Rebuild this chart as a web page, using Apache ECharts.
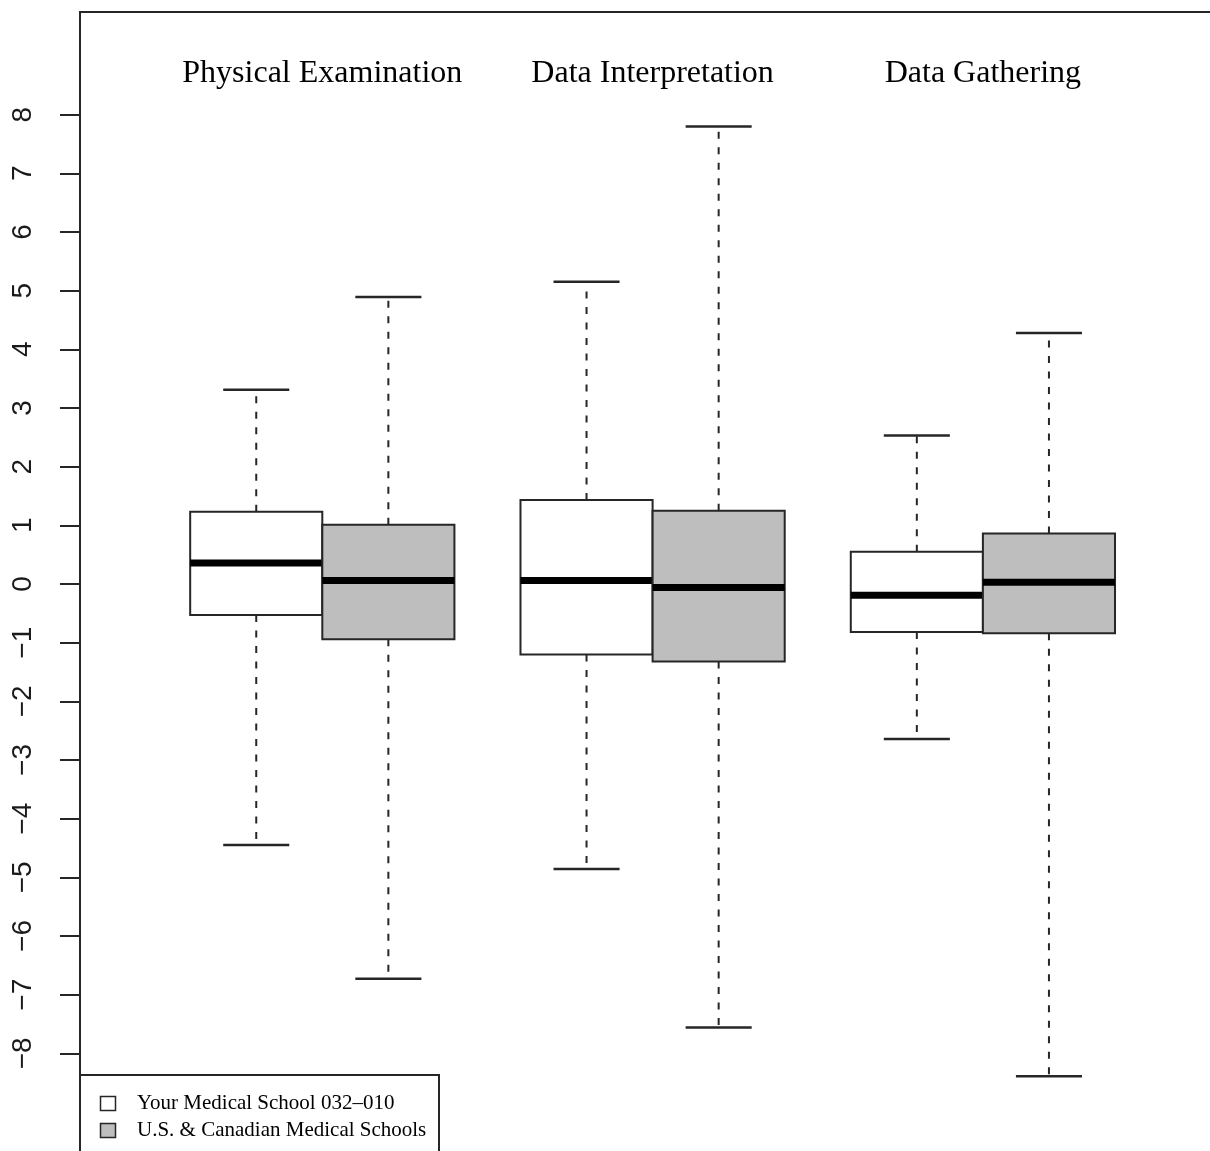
<!DOCTYPE html>
<html>
<head>
<meta charset="utf-8">
<script src="https://cdn.jsdelivr.net/npm/echarts@6/dist/echarts.min.js"></script>
<style>
  html, body { margin: 0; padding: 0; background: #ffffff; }
  #chart { width: 1210px; height: 1151px; }
</style>
</head>
<body>
<div id="chart"></div>
<script>
// ---- data ----
const categories = ['Physical Examination', 'Data Interpretation', 'Data Gathering'];
const seriesNames = ['Your Medical School 032\u2013010', 'U.S. & Canadian Medical Schools'];
// each entry: [lower whisker, Q1, median, Q3, upper whisker]
const yourSchool = [
  [-4.45, -0.53, 0.36, 1.23, 3.31],
  [-4.86, -1.20, 0.06, 1.43, 5.15],
  [-2.64, -0.82, -0.19, 0.55, 2.53]
];
const usCanadian = [
  [-6.73, -0.94, 0.06, 1.01, 4.89],
  [-7.56, -1.32, -0.06, 1.25, 7.80],
  [-8.39, -0.84, 0.03, 0.86, 4.28]
];
const yTicks = [-8, -7, -6, -5, -4, -3, -2, -1, 0, 1, 2, 3, 4, 5, 6, 7, 8];

// ---- layout / style ----
const BOX_W = 0.4;
const CAP_W = 0.2;
const OFFSETS = [-0.2, 0.2];
const FILLS = ['#ffffff', '#bebebe'];
const LINE = '#262626';

function buildData(arr, s) {
  return arr.map((v, i) => [i + 1 + OFFSETS[s]].concat(v));
}

function renderItem(params, api) {
  const x = api.value(0);
  const lo = api.value(1), q1 = api.value(2), md = api.value(3), q3 = api.value(4), hi = api.value(5);
  const pLo = api.coord([x, lo]), pQ1 = api.coord([x, q1]), pMd = api.coord([x, md]);
  const pQ3 = api.coord([x, q3]), pHi = api.coord([x, hi]);
  const hb = api.size([BOX_W, 0])[0] / 2;
  const hc = api.size([CAP_W, 0])[0] / 2;
  const cx = pMd[0];
  const fill = api.visual('color');
  const dashStyle = { stroke: LINE, lineWidth: 2, lineDash: [7, 8.5] };
  const solid = { stroke: LINE, lineWidth: 2.5 };
  return {
    type: 'group',
    children: [
      { type: 'line', shape: { x1: cx, y1: pQ3[1], x2: cx, y2: pHi[1] }, style: dashStyle },
      { type: 'line', shape: { x1: cx, y1: pQ1[1], x2: cx, y2: pLo[1] }, style: dashStyle },
      { type: 'line', shape: { x1: cx - hc, y1: pHi[1], x2: cx + hc, y2: pHi[1] }, style: solid },
      { type: 'line', shape: { x1: cx - hc, y1: pLo[1], x2: cx + hc, y2: pLo[1] }, style: solid },
      { type: 'rect', shape: { x: cx - hb, y: pQ3[1], width: 2 * hb, height: pQ1[1] - pQ3[1] },
        style: { fill: fill, stroke: LINE, lineWidth: 2 } },
      { type: 'line', shape: { x1: cx - hb, y1: pMd[1], x2: cx + hb, y2: pMd[1] },
        style: { stroke: '#000000', lineWidth: 7 } }
    ]
  };
}

const chart = echarts.init(document.getElementById('chart'), null, { renderer: 'canvas' });

const legendGraphic = [
  { type: 'rect', shape: { x: 80, y: 1075, width: 359, height: 110 },
    style: { fill: '#ffffff', stroke: LINE, lineWidth: 2 }, z: 10 }
];
seriesNames.forEach((name, i) => {
  const yc = 1103.5 + i * 27;
  legendGraphic.push({ type: 'rect', shape: { x: 100.5, y: yc - 7, width: 15, height: 14 },
    style: { fill: FILLS[i], stroke: LINE, lineWidth: 1.5 }, z: 11 });
  legendGraphic.push({ type: 'text', x: 137, y: yc,
    style: { text: name, fill: '#000000', font: '21px "Liberation Serif"', verticalAlign: 'middle', align: 'left' }, z: 11 });
});

chart.setOption({
  animation: false,
  backgroundColor: '#ffffff',
  grid: {
    left: 80, top: 12, width: 1145, height: 1144,
    outerBoundsMode: 'none', containLabel: false,
    show: true, borderColor: LINE, borderWidth: 2, backgroundColor: 'transparent'
  },
  xAxis: {
    type: 'value', position: 'top',
    min: 0.2664, max: 3.733,
    axisLine: { show: false }, axisTick: { show: false }, splitLine: { show: false },
    axisLabel: {
      inside: true, margin: 46,
      customValues: [1, 2, 3],
      formatter: v => categories[Math.round(v) - 1],
      fontFamily: 'Liberation Serif', fontSize: 32, color: '#000000'
    }
  },
  yAxis: {
    type: 'value', min: -9.75, max: 9.75,
    axisLine: { show: false },
    splitLine: { show: false },
    axisTick: { show: true, length: 20, customValues: yTicks, lineStyle: { color: LINE, width: 2 } },
    axisLabel: {
      customValues: yTicks, rotate: 90, margin: 43,
      formatter: v => String(v).replace('-', '\u2212'),
      fontFamily: 'Liberation Sans', fontSize: 28, color: '#1a1a1a'
    }
  },
  series: [
    { type: 'custom', name: seriesNames[0], renderItem: renderItem, itemStyle: { color: FILLS[0] },
      encode: { x: 0, y: [1, 2, 3, 4, 5] }, data: buildData(yourSchool, 0) },
    { type: 'custom', name: seriesNames[1], renderItem: renderItem, itemStyle: { color: FILLS[1] },
      encode: { x: 0, y: [1, 2, 3, 4, 5] }, data: buildData(usCanadian, 1) }
  ],
  graphic: legendGraphic
});
</script>
</body>
</html>
